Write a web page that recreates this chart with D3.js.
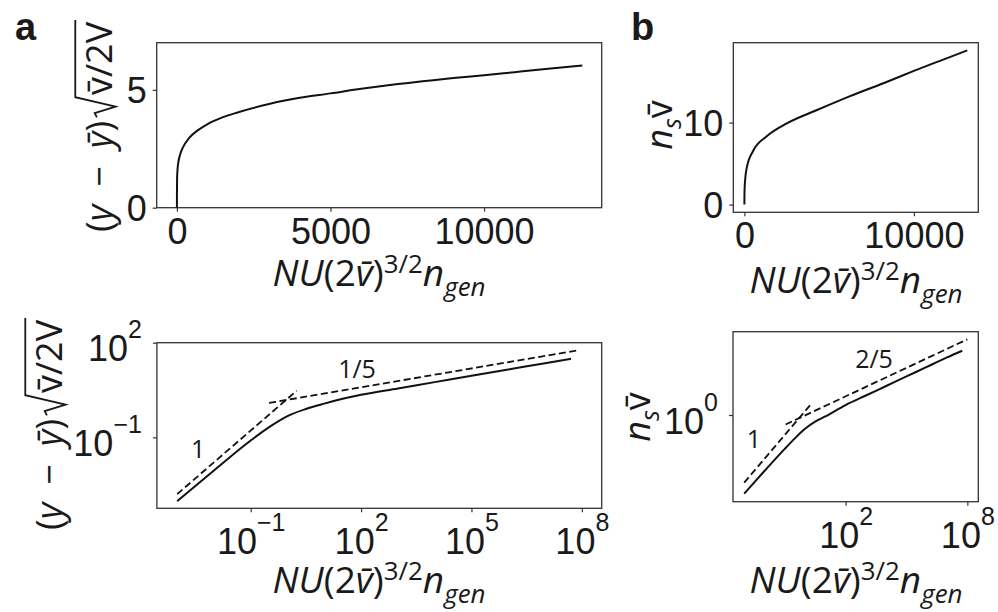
<!DOCTYPE html>
<html>
<head>
<meta charset="utf-8">
<script src="https://cdn.jsdelivr.net/npm/d3@7/dist/d3.min.js"></script>
<style>
  body { margin: 0; background: #fff; }
</style>
</head>
<body>
<div id="chart"></div>
<script>
// ---- data ----
// panel a, linear axes
var A_LIN_X = [0, 1, 5, 20, 50, 100, 200, 400, 700, 1000, 1500, 2000, 3000, 4000, 5000, 6000, 7000, 8000, 9000, 10000, 11000, 12000, 13200];
var A_LIN_Y = [0, 0.5, 1.2, 1.62, 1.95, 2.24, 2.57, 2.96, 3.30, 3.55, 3.84, 4.05, 4.40, 4.66, 4.85, 5.05, 5.22, 5.36, 5.50, 5.62, 5.75, 5.88, 6.03];
// panel a, log axes
var A_LOG_X = [1e-3, 1e-2, 1e-1, 0.316, 1, 3.16, 10, 31.6, 100, 1e3, 1e4, 1e5, 1e6, 1e7, 5.1e7];
var A_LOG_Y = [0.00095, 0.0089, 0.079, 0.21, 0.47, 0.79, 1.17, 1.66, 2.24, 3.55, 5.62, 8.9, 14.1, 22.4, 30.9];
var A_FIT1_X = [1e-3, 1.78], A_FIT1_Y = [0.00158, 3.0];
var A_FIT2_X = [0.316, 7.9e7], A_FIT2_Y = [1.23, 57.5];

// panel b, linear axes
var B_LIN_X = [0, 2, 10, 40, 140, 530, 1300, 2500, 4250, 6200, 8200, 10000, 11500, 13150];
var B_LIN_Y = [0, 0.9, 1.8, 2.9, 4.5, 6.6, 8.3, 9.9, 11.5, 13.2, 14.8, 16.3, 17.5, 18.8];
// panel b, log axes
var B_LOG_X = [1e-3, 1e-2, 0.1, 0.316, 1, 3.16, 10, 100, 1e3, 1e4, 1e5, 1e6, 1e7, 5.6e7];
var B_LOG_Y = [5.0e-4, 4.47e-3, 0.038, 0.105, 0.263, 0.525, 0.87, 2.63, 6.6, 16.6, 41.7, 105, 263, 501];
var B_FIT1_X = [1e-3, 2.09], B_FIT1_Y = [1.45e-3, 3.02];
var B_FIT2_X = [0.11, 1e8], B_FIT2_Y = [0.40, 1514];

// ticks
var TL_XTICKS = [0, 5000, 10000], TL_YTICKS = [0, 5];
var TR_XTICKS = [0, 10000], TR_YTICKS = [0, 10];
var BL_XTICKS = [1e-1, 1e2, 1e5, 1e8], BL_YTICKS = [1e-1, 1e2];
var BR_XTICKS = [1e2, 1e8], BR_YTICKS = [1e0];

var W = 998, H = 612;
var FRAME = "#333";
var TICK_FONT = "'Liberation Sans', Arial, sans-serif";
var MATH_FONT = "'Open Sans', 'Noto Sans', 'DejaVu Sans', sans-serif";

var svg = d3.select("#chart").append("svg")
    .attr("width", W)
    .attr("height", H);

function zipPts(xs, ys){
    return xs.map(function(v, i){ return [v, ys[i]]; });
}

// writes a run of pieces (text, style) into a text element
function mathRuns(t, parts, F){
    var shift = 0;
    parts.forEach(function(p){
        var s = p[1], want = 0, size = F;
        if (s == "sup") { want = -0.36 * F; size = 0.7 * F; }
        if (s == "sub" || s == "subit") { want = 0.26 * F; size = 0.7 * F; }
        t.append("tspan")
            .attr("dy", want - shift)
            .attr("font-size", size)
            .attr("font-style", (s == "it" || s == "subit") ? "italic" : "normal")
            .text(p[0]);
        shift = want;
    });
}

function xLabel(cx, baseline, F){
    var t = svg.append("text")
        .attr("x", cx).attr("y", baseline)
        .attr("text-anchor", "middle")
        .attr("font-family", MATH_FONT)
        .attr("fill", "#1a1a1a");
    mathRuns(t, [["N", "it"], ["U", "it"], ["(", "rm"], ["2", "rm"], ["v\u0304", "it"], [")", "rm"],
                 ["3/2", "sup"], ["n", "it"], ["gen", "subit"]], F);
}

function nsLabel(bx, cy, F){
    var g = svg.append("g").attr("transform", "translate(" + bx + "," + cy + ") rotate(-90)");
    var t = g.append("text")
        .attr("text-anchor", "middle")
        .attr("font-family", MATH_FONT)
        .attr("fill", "#1a1a1a");
    mathRuns(t, [["n", "it"], ["s", "subit"], ["v\u0304", "rm"]], F);
}

// (y - ybar) sqrt(vbar/2V), rotated
function rootLabel(bx, cy, F){
    var g = svg.append("g").attr("transform", "translate(" + bx + "," + cy + ") rotate(-90)");
    var inner = g.append("g");
    var t1 = inner.append("text").attr("font-family", MATH_FONT).attr("fill", "#1a1a1a");
    mathRuns(t1, [["(", "rm"], ["y", "it"], ["\u2002\u2212\u2002", "rm"], ["y\u0304", "it"], [")", "rm"]], F);
    var w1 = t1.node().getComputedTextLength();
    var rx = w1 + 0.1 * F;
    var t2 = inner.append("text").attr("x", rx + 0.62 * F)
        .attr("font-family", MATH_FONT).attr("fill", "#1a1a1a");
    mathRuns(t2, [["v\u0304/2V", "rm"]], F);
    var w2 = t2.node().getComputedTextLength();
    var end = rx + 0.62 * F + w2 + 0.05 * F;
    inner.append("path")
        .attr("d", "M" + rx + "," + (-0.42 * F) +
                   "L" + (rx + 0.12 * F) + "," + (-0.48 * F) +
                   "L" + (rx + 0.3 * F) + "," + (0.1 * F) +
                   "L" + (rx + 0.56 * F) + "," + (-1.02 * F) +
                   "H" + end)
        .attr("fill", "none").attr("stroke", "#1a1a1a").attr("stroke-width", 1.8);
    inner.attr("transform", "translate(" + (-end / 2) + ",0)");
}

function powText(sel, supRaise){
    sel.each(function(d){
        var t = d3.select(this);
        var e = Math.round(Math.log10(d));
        t.text(null);
        t.append("tspan").text("10");
        t.append("tspan").attr("dy", -supRaise).attr("font-size", 25)
            .text(e < 0 ? "\u2212" + (-e) : String(e));
    });
}

function drawPanel(p){
    var x = p.x.range([p.box[0], p.box[2]]);
    var y = p.y.range([p.box[3], p.box[1]]);
    var g = svg.append("g");

    var xa = d3.axisBottom(x).tickValues(p.xticks).tickSize(4).tickFormat(p.log ? function(){ return ""; } : d3.format("d"));
    var ya = d3.axisLeft(y).tickValues(p.yticks).tickSize(4).tickFormat(p.log ? function(){ return ""; } : d3.format("d"));

    var gx = g.append("g").attr("transform", "translate(0," + p.box[3] + ")").call(xa);
    var gy = g.append("g").attr("transform", "translate(" + p.box[0] + ",0)").call(ya);
    [gx, gy].forEach(function(a){
        a.select(".domain").remove();
        a.attr("font-family", TICK_FONT).attr("font-size", 36);
        a.selectAll(".tick line").attr("stroke", FRAME).attr("stroke-width", 1.2);
        a.selectAll(".tick text").attr("fill", "#1a1a1a");
    });
    if (p.log){
        gx.selectAll(".tick text").attr("y", 46).attr("dy", 0).call(powText, 23);
        gy.selectAll(".tick text").attr("x", -15).attr("dy", 18).call(powText, 23);
    } else {
        gx.selectAll(".tick text").attr("y", 36).attr("dy", 0);
        gy.selectAll(".tick text").attr("x", -10).attr("dy", 13);
    }

    g.append("rect")
        .attr("x", p.box[0]).attr("y", p.box[1])
        .attr("width", p.box[2] - p.box[0]).attr("height", p.box[3] - p.box[1])
        .attr("fill", "none").attr("stroke", FRAME).attr("stroke-width", 1.3);

    var line = d3.line()
        .curve(d3.curveMonotoneX)
        .x(function(d){ return x(d[0]); })
        .y(function(d){ return y(d[1]); });

    p.fits.forEach(function(f){
        g.append("path").datum(f)
            .attr("d", line)
            .attr("fill", "none").attr("stroke", "#111").attr("stroke-width", 1.8)
            .attr("stroke-dasharray", "7,3.5");
    });
    g.append("path").datum(p.curve)
        .attr("d", line)
        .attr("fill", "none").attr("stroke", "#111").attr("stroke-width", 2);

    p.notes.forEach(function(n){
        g.append("text")
            .attr("x", x(n.x)).attr("y", y(n.y))
            .attr("text-anchor", "middle")
            .attr("font-family", MATH_FONT).attr("font-size", 25)
            .attr("fill", "#1a1a1a")
            .text(n.text);
    });
}

var panels = [
    { box: [156.7, 42.7, 601.7, 207.7], log: false,
      x: d3.scaleLinear().domain([-658, 13830]), y: d3.scaleLinear().domain([0, 7]),
      xticks: TL_XTICKS, yticks: TL_YTICKS,
      curve: zipPts(A_LIN_X, A_LIN_Y), fits: [], notes: [] },
    { box: [156.9, 342.7, 601.7, 508.3], log: true,
      x: d3.scaleLog().domain([Math.pow(10, -3.55), Math.pow(10, 8.54)]),
      y: d3.scaleLog().domain([Math.pow(10, -3.25), Math.pow(10, 2.0)]),
      xticks: BL_XTICKS, yticks: BL_YTICKS,
      curve: zipPts(A_LOG_X, A_LOG_Y),
      fits: [zipPts(A_FIT1_X, A_FIT1_Y), zipPts(A_FIT2_X, A_FIT2_Y)],
      notes: [{ text: "1/5", x: Math.pow(10, 1.89), y: Math.pow(10, 0.88) },
              { text: "1", x: Math.pow(10, -2.43), y: Math.pow(10, -1.66) }] },
    { box: [733.3, 42.7, 978.3, 212.3], log: false,
      x: d3.scaleLinear().domain([-655, 13800]), y: d3.scaleLinear().domain([-0.94, 19.74]),
      xticks: TR_XTICKS, yticks: TR_YTICKS,
      curve: zipPts(B_LIN_X, B_LIN_Y), fits: [], notes: [] },
    { box: [733, 331.7, 978.3, 501.7], log: true,
      x: d3.scaleLog().domain([Math.pow(10, -3.55), Math.pow(10, 8.54)]),
      y: d3.scaleLog().domain([Math.pow(10, -3.64), Math.pow(10, 3.5)]),
      xticks: BR_XTICKS, yticks: BR_YTICKS,
      curve: zipPts(B_LOG_X, B_LOG_Y),
      fits: [zipPts(B_FIT1_X, B_FIT1_Y), zipPts(B_FIT2_X, B_FIT2_Y)],
      notes: [{ text: "2/5", x: Math.pow(10, 3.4), y: Math.pow(10, 1.96) },
              { text: "1", x: Math.pow(10, -2.52), y: Math.pow(10, -1.39) }] }
];

panels.forEach(drawPanel);

xLabel(379, 286, 37);
xLabel(856, 293, 37);
xLabel(379, 593, 37);
xLabel(856, 593, 37);

rootLabel(112, 126, 36);
rootLabel(62, 424, 36);
nsLabel(672, 125, 36);
nsLabel(650, 417, 36);

svg.append("text").attr("x", 15).attr("y", 40)
    .attr("font-family", TICK_FONT).attr("font-weight", "bold").attr("font-size", 38)
    .attr("fill", "#1a1a1a").text("a");
svg.append("text").attr("x", 631).attr("y", 40)
    .attr("font-family", TICK_FONT).attr("font-weight", "bold").attr("font-size", 38)
    .attr("fill", "#1a1a1a").text("b");
</script>
</body>
</html>
